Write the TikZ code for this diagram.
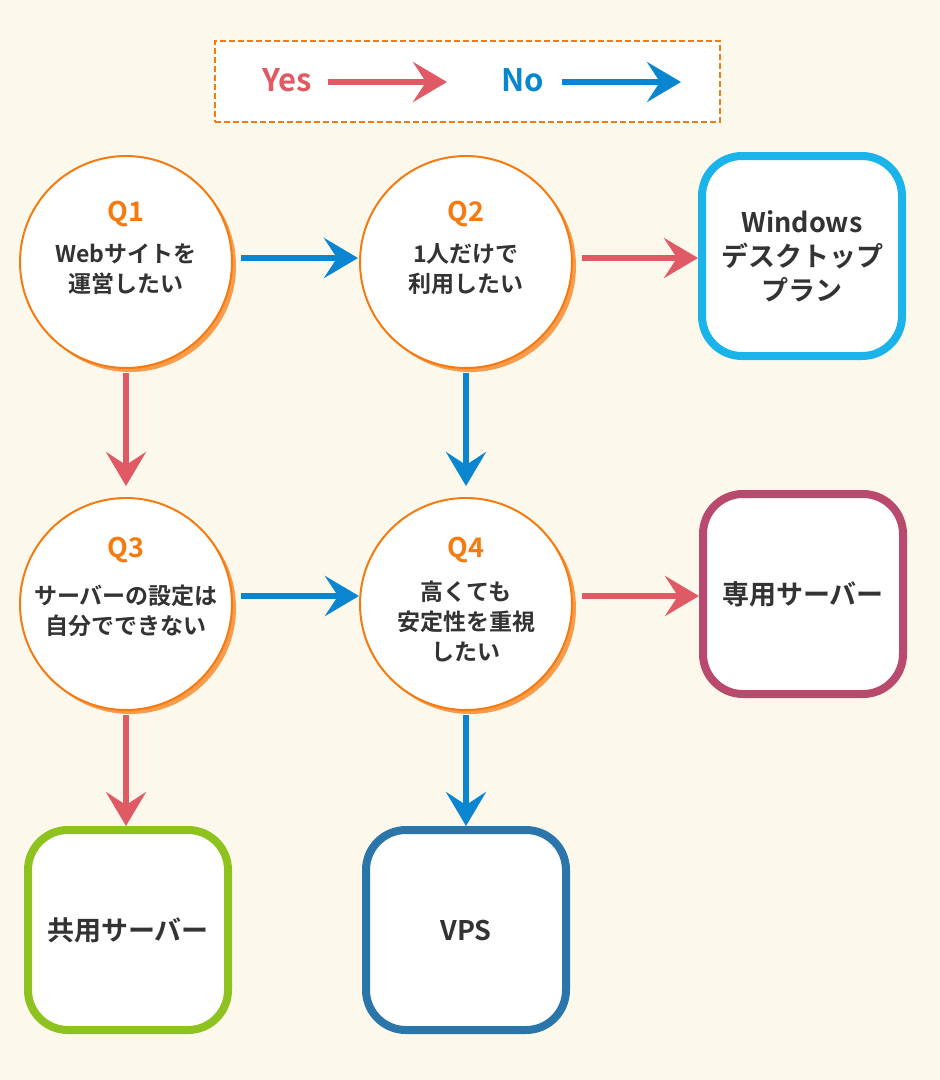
\documentclass[tikz,border=0pt]{standalone}
\usepackage{fontspec}
\setmainfont{Noto Sans CJK JP}[BoldFont={Noto Sans CJK JP Bold}]
\usetikzlibrary{arrows.meta}
\definecolor{bg}{HTML}{FCF9EC}
\definecolor{yesc}{HTML}{E05A65}
\definecolor{noc}{HTML}{0A85D0}
\definecolor{orq}{HTML}{F57A0F}
\definecolor{txt}{HTML}{333333}
\definecolor{win}{HTML}{1AB4EA}
\definecolor{ded}{HTML}{B94A6E}
\definecolor{shr}{HTML}{8DC21F}
\definecolor{vps}{HTML}{2A76AA}
\begin{document}
\begin{tikzpicture}[x=1pt,y=-1pt,
 q/.style={circle,draw=orq,line width=2pt,fill=white,minimum size=212pt,inner sep=0pt,align=center,text=txt,font=\bfseries\fontsize{23}{30}\selectfont},
 ans/.style={rounded corners=40pt,draw=#1,line width=8pt,fill=white,minimum size=200pt,align=center,text=txt,font=\bfseries\fontsize{27}{34}\selectfont},
 ar/.style={draw=#1,line width=6pt,-{Stealth[length=34pt,width=40pt,inset=13pt]}},
 ql/.style={text=orq,font=\bfseries\fontsize{27}{30}\selectfont}]
\fill[bg] (0,0) rectangle (940,1080);
\useasboundingbox (0,0) rectangle (940,1080);
% legend
\node[draw=orq,dash pattern=on 6pt off 3pt,line width=2pt,fill=white,minimum width=505pt,minimum height=81pt] (leg) at (467.5,81.5) {};
\node[text=yesc,font=\bfseries\fontsize{31}{34}\selectfont] (yes) at (287,80) {Yes};
\coordinate (ya) at (328,82); \coordinate (yb) at (447,82);
\draw[ar=yesc] (ya) -- (yb);
\node[text=noc,font=\bfseries\fontsize{31}{34}\selectfont] (no) at (523,80) {No};
\coordinate (na) at (562,82); \coordinate (nb) at (681,82);
\draw[ar=noc] (na) -- (nb);
% shadows
\foreach \p in {(126,262),(466,262),(126,604),(466,604)}
 \fill[orq!75] \p ++(4,4) circle (106pt);
\node[q] (q1) at (126,262) {\\[4pt]Webサイトを\\運営したい};
\node[q] (q2) at (466,262) {\\[4pt]1人だけで\\利用したい};
\node[q] (q3) at (126,604) {\\[4pt]サーバーの設定は\\自分でできない};
\node[q] (q4) at (466,604) {\\[24pt]高くても\\安定性を重視\\したい};
\node[ql] (l1) at (126,214) {Q1};
\node[ql] (l2) at (466,214) {Q2};
\node[ql] (l3) at (126,550) {Q3};
\node[ql] (l4) at (466,550) {Q4};
\node[ans=win] (win) at (802,256) {Windows\\デスクトップ\\プラン};
\node[ans=ded] (ded) at (803,594) {専用サーバー};
\node[ans=shr] (shr) at (128,930) {共用サーバー};
\node[ans=vps] (vps) at (466,930) {VPS};
\draw[ar=noc] (241,258) -- (358,258);
\draw[ar=yesc] (582,258) -- (win.west|-0,258);
\draw[ar=yesc] (q1.south) ++(0,4) -- (126,486);
\draw[ar=noc] (q2.south) ++(0,4) -- (466,486);
\draw[ar=noc] (241,596) -- (q4.west|-0,596);
\draw[ar=yesc] (582,596) -- (ded.west|-0,596);
\draw[ar=yesc] (q3.south) ++(0,4) -- (126,826);
\draw[ar=noc] (q4.south) ++(0,4) -- (vps.north);
\end{tikzpicture}
\end{document}
